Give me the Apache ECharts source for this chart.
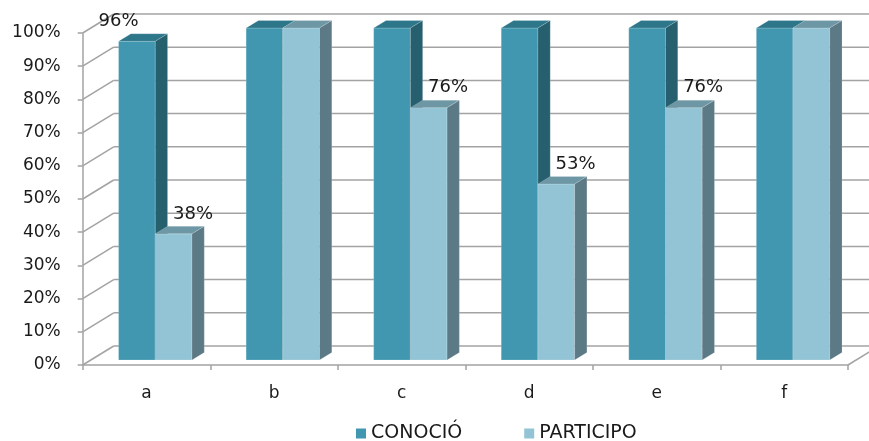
<!DOCTYPE html>
<html>
<head>
<meta charset="utf-8">
<script src="https://cdn.jsdelivr.net/npm/echarts@6/dist/echarts.min.js"></script>
<style>
html,body{margin:0;padding:0;background:#fff;}
#chart{width:869px;height:441px;}
</style>
</head>
<body>
<div id="chart"></div>
<script>
const categories = ['a', 'b', 'c', 'd', 'e', 'f'];
const conocio = [96, 100, 100, 100, 100, 100];
const participo = [38, 100, 76, 53, 76, 100];
const yTicks = [0, 10, 20, 30, 40, 50, 60, 70, 80, 90, 100];
const seriesNames = ['CONOCIÓ', 'PARTICIPO'];

const FONT = 'DejaVu Sans';
const GRID_COLOR = '#A3A3A3';
// 3D geometry
const WALL_DX = 31, WALL_DY = -19;   // back wall offset
const BAR_DX = 8.8, BAR_DY = -5;     // bar plane offset
const DEPTH_DX = 12.3, DEPTH_DY = -7.5; // bar depth
const BAR_W = 36.7;

const palette = [
  { front: '#4297B0', top: '#2E7689', side: '#265F6E' },
  { front: '#93C4D5', top: '#6E97A5', side: '#5C7A86' }
];

function wallRender(params, api) {
  const cs = params.coordSys;
  const v = api.value(0);
  const y = api.coord([0, v])[1];
  const x0 = cs.x;
  const children = [
    { type: 'line', shape: { x1: x0, y1: y, x2: x0 + WALL_DX, y2: y + WALL_DY },
      style: { stroke: GRID_COLOR, lineWidth: 1.5 } },
    { type: 'line', shape: { x1: x0 + WALL_DX, y1: y + WALL_DY, x2: cs.x + cs.width + WALL_DX, y2: y + WALL_DY },
      style: { stroke: GRID_COLOR, lineWidth: 1.5 } }
  ];
  if (v === 0) {
    children.push({ type: 'line', shape: { x1: cs.x + cs.width, y1: y, x2: cs.x + cs.width + WALL_DX, y2: y + WALL_DY },
      style: { stroke: GRID_COLOR, lineWidth: 1.5 } });
  }
  return { type: 'group', children: children };
}

function makeBarRender(si) {
  return function (params, api) {
    const cat = api.value(0);
    const val = api.value(1);
    const base = api.coord([cat, 0]);
    const top = api.coord([cat, val]);
    const cx = base[0] + BAR_DX;
    const x0 = si === 0 ? cx - BAR_W : cx;
    const x1 = x0 + BAR_W;
    const yB = base[1] + BAR_DY;
    const yT = top[1] + BAR_DY;
    const c = palette[si];
    const edge = 'rgba(255,255,255,0.35)';
    const children = [
      { type: 'rect', shape: { x: x0, y: yT, width: BAR_W, height: yB - yT },
        style: { fill: c.front, stroke: edge, lineWidth: 0.5 } },
      { type: 'polygon', shape: { points: [[x0, yT], [x1, yT], [x1 + DEPTH_DX, yT + DEPTH_DY], [x0 + DEPTH_DX, yT + DEPTH_DY]] },
        style: { fill: c.top, stroke: edge, lineWidth: 0.5 } },
      { type: 'polygon', shape: { points: [[x1, yT], [x1 + DEPTH_DX, yT + DEPTH_DY], [x1 + DEPTH_DX, yB + DEPTH_DY], [x1, yB]] },
        style: { fill: c.side, stroke: edge, lineWidth: 0.5 } }
    ];
    if (val < 100) {
      const lx = si === 0 ? x0 : x1 + 1;
      children.push({ type: 'text', style: { text: val + '%', x: lx, y: yT - 20, align: 'center', verticalAlign: 'middle',
        fill: '#1a1a1a', font: '18px "' + FONT + '"' } });
    }
    return { type: 'group', children: children };
  };
}

const chart = echarts.init(document.getElementById('chart'), null, { renderer: 'canvas' });
chart.setOption({
  animation: false,
  backgroundColor: '#fff',
  textStyle: { fontFamily: FONT },
  grid: { left: 82.7, right: 21, top: 33, bottom: 76 },
  legend: {
    data: seriesNames,
    left: 356, top: 424, padding: 0,
    icon: 'rect', itemWidth: 10, itemHeight: 10, itemGap: 62,
    textStyle: { fontFamily: FONT, fontSize: 19, color: '#1a1a1a' }
  },
  xAxis: {
    type: 'category', data: categories,
    axisLine: { lineStyle: { color: GRID_COLOR, width: 1.5 } },
    axisTick: { show: true, length: 5, lineStyle: { color: GRID_COLOR, width: 1.5 } },
    axisLabel: { color: '#1a1a1a', fontSize: 17, fontFamily: FONT, margin: 20 },
    splitLine: { show: false }
  },
  yAxis: {
    type: 'value', min: 0, max: 100, interval: 10,
    axisLine: { show: true, lineStyle: { color: GRID_COLOR, width: 1.5 } },
    axisTick: { show: true, length: 5, lineStyle: { color: GRID_COLOR, width: 1.5 } },
    axisLabel: { formatter: '{value}%', color: '#1a1a1a', fontSize: 17, fontFamily: FONT, margin: 22 },
    splitLine: { show: false }
  },
  series: [
    { type: 'custom', name: '_walls', data: yTicks.map(v => [v]), renderItem: wallRender, z: 1, silent: true,
      encode: { y: 0 } },
    { type: 'custom', name: seriesNames[0], itemStyle: { color: palette[0].front },
      data: conocio.map((v, i) => [i, v]), renderItem: makeBarRender(0), z: 2, encode: { x: 0, y: 1 } },
    { type: 'custom', name: seriesNames[1], itemStyle: { color: palette[1].front },
      data: participo.map((v, i) => [i, v]), renderItem: makeBarRender(1), z: 3, encode: { x: 0, y: 1 } }
  ]
});
</script>
</body>
</html>
